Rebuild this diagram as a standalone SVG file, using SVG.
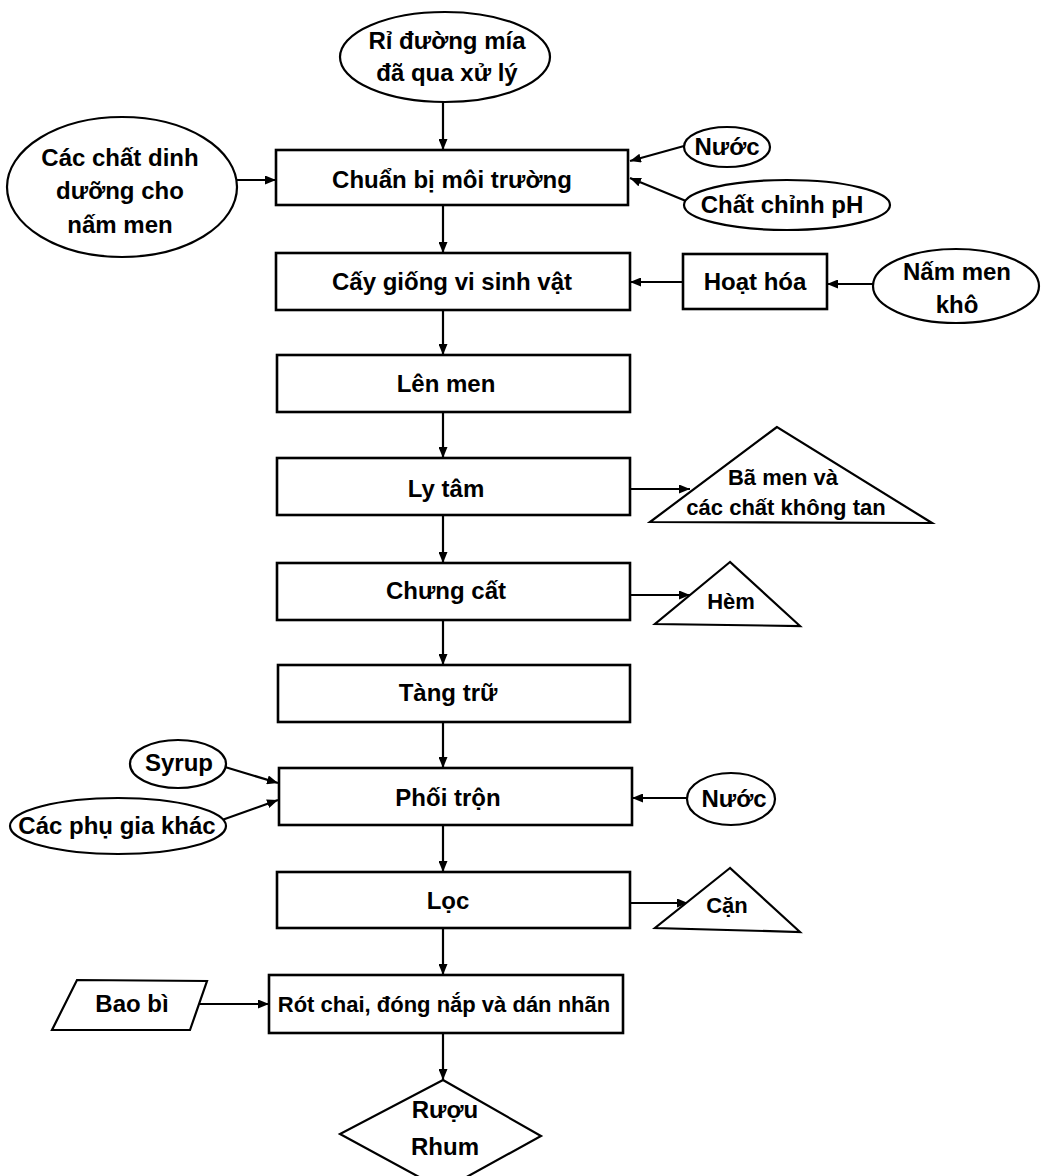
<svg xmlns="http://www.w3.org/2000/svg" width="1042" height="1176" viewBox="0 0 1042 1176">
<defs>
<marker id="ah" markerUnits="userSpaceOnUse" markerWidth="11" markerHeight="9" refX="11" refY="4.5" orient="auto">
<path d="M0,0 L11,4.5 L0,9 Z" fill="#000"/>
</marker>
<style>
.box{fill:#fff;stroke:#000;stroke-width:2.6}
.shp{fill:#fff;stroke:#000;stroke-width:2.2}
.t{font-family:"Liberation Sans",Arial,sans-serif;font-weight:bold;font-size:24px;fill:#000;text-anchor:middle}
.s{font-size:22px}
.c{fill:none;stroke:#000;stroke-width:2.2;marker-end:url(#ah)}
</style>
</defs>
<rect width="1042" height="1176" fill="#fff"/>
<g id="connectors">
<line class="c" x1="443" y1="102" x2="443" y2="150"/>
<line class="c" x1="443" y1="205" x2="443" y2="253"/>
<line class="c" x1="443" y1="310" x2="443" y2="355"/>
<line class="c" x1="443" y1="412" x2="443" y2="458"/>
<line class="c" x1="443" y1="515" x2="443" y2="563"/>
<line class="c" x1="443" y1="620" x2="443" y2="665"/>
<line class="c" x1="443" y1="722" x2="443" y2="768"/>
<line class="c" x1="443" y1="825" x2="443" y2="872"/>
<line class="c" x1="443" y1="928" x2="443" y2="975"/>
<line class="c" x1="443" y1="1033" x2="443" y2="1080"/>
<line class="c" x1="237" y1="180" x2="276" y2="180"/>
<line class="c" x1="684" y1="146" x2="630" y2="161"/>
<line class="c" x1="686" y1="201" x2="630" y2="178"/>
<line class="c" x1="683" y1="282" x2="630" y2="282"/>
<line class="c" x1="873" y1="284" x2="827" y2="284"/>
<line class="c" x1="630" y1="489" x2="690" y2="489"/>
<line class="c" x1="630" y1="595" x2="690" y2="595"/>
<line class="c" x1="225" y1="767" x2="278" y2="783"/>
<line class="c" x1="222" y1="820" x2="278" y2="800"/>
<line class="c" x1="687" y1="798" x2="632" y2="798"/>
<line class="c" x1="630" y1="903" x2="688" y2="903"/>
<line class="c" x1="197" y1="1004" x2="269" y2="1004"/>
</g>
<g id="n-ri-duong">
<ellipse class="shp" cx="445" cy="57" rx="105" ry="45"/>
<text class="t" x="447" y="49">Rỉ đường mía</text>
<text class="t" x="447" y="81">đã qua xử lý</text>
</g>
<g id="n-dinh-duong">
<ellipse class="shp" cx="122" cy="187" rx="115" ry="70"/>
<text class="t" x="120" y="166">Các chất dinh</text>
<text class="t" x="120" y="199">dưỡng cho</text>
<text class="t" x="120" y="233">nấm men</text>
</g>
<g id="n-nuoc1">
<ellipse class="shp" cx="727" cy="147" rx="43" ry="20"/>
<text class="t" x="727" y="155">Nước</text>
</g>
<g id="n-ph">
<ellipse class="shp" cx="787" cy="205" rx="103" ry="25"/>
<text class="t" x="782" y="213">Chất chỉnh pH</text>
</g>
<g id="n-chuan-bi">
<rect class="box" x="276" y="150" width="352" height="55"/>
<text class="t" x="452" y="188">Chuẩn bị môi trường</text>
</g>
<g id="n-cay-giong">
<rect class="box" x="276" y="253" width="354" height="57"/>
<text class="t" x="452" y="290">Cấy giống vi sinh vật</text>
</g>
<g id="n-hoat-hoa">
<rect class="box" x="683" y="254" width="144" height="55"/>
<text class="t" x="755" y="290">Hoạt hóa</text>
</g>
<g id="n-nam-men">
<ellipse class="shp" cx="956" cy="286" rx="83" ry="37"/>
<text class="t" x="957" y="280">Nấm men</text>
<text class="t" x="957" y="313">khô</text>
</g>
<g id="n-len-men">
<rect class="box" x="277" y="355" width="353" height="57"/>
<text class="t" x="446" y="392">Lên men</text>
</g>
<g id="n-ly-tam">
<rect class="box" x="277" y="458" width="353" height="57"/>
<text class="t" x="446" y="497">Ly tâm</text>
</g>
<g id="n-ba-men">
<polygon class="shp" points="777,427 650,522 932,523"/>
<text class="t s" x="783" y="485">Bã men và</text>
<text class="t s" x="786" y="515">các chất không tan</text>
</g>
<g id="n-chung-cat">
<rect class="box" x="277" y="563" width="353" height="57"/>
<text class="t" x="446" y="599">Chưng cất</text>
</g>
<g id="n-hem">
<polygon class="shp" points="730,562 655,624 800,626"/>
<text class="t s" x="731" y="609">Hèm</text>
</g>
<g id="n-tang-tru">
<rect class="box" x="278" y="665" width="352" height="57"/>
<text class="t" x="448" y="701">Tàng trữ</text>
</g>
<g id="n-syrup">
<ellipse class="shp" cx="178" cy="764" rx="48" ry="24"/>
<text class="t" x="179" y="771">Syrup</text>
</g>
<g id="n-phu-gia">
<ellipse class="shp" cx="118" cy="826" rx="108" ry="28"/>
<text class="t" x="117" y="834">Các phụ gia khác</text>
</g>
<g id="n-phoi-tron">
<rect class="box" x="279" y="768" width="353" height="57"/>
<text class="t" x="448" y="806">Phối trộn</text>
</g>
<g id="n-nuoc2">
<ellipse class="shp" cx="731" cy="799" rx="44" ry="26"/>
<text class="t" x="734" y="807">Nước</text>
</g>
<g id="n-loc">
<rect class="box" x="277" y="872" width="353" height="56"/>
<text class="t" x="448" y="909">Lọc</text>
</g>
<g id="n-can">
<polygon class="shp" points="730,868 655,928 800,932"/>
<text class="t s" x="727" y="913">Cặn</text>
</g>
<g id="n-bao-bi">
<polygon class="shp" points="77,980 207,981 190,1030 52,1030"/>
<text class="t" x="132" y="1012">Bao bì</text>
</g>
<g id="n-rot-chai">
<rect class="box" x="269" y="975" width="354" height="58"/>
<text class="t s" x="444" y="1012">Rót chai, đóng nắp và dán nhãn</text>
</g>
<g id="n-ruou-rhum">
<polygon class="shp" points="443,1080 541,1136 443,1190 340,1134"/>
<text class="t" x="445" y="1118">Rượu</text>
<text class="t" x="445" y="1155">Rhum</text>
</g>
</svg>
